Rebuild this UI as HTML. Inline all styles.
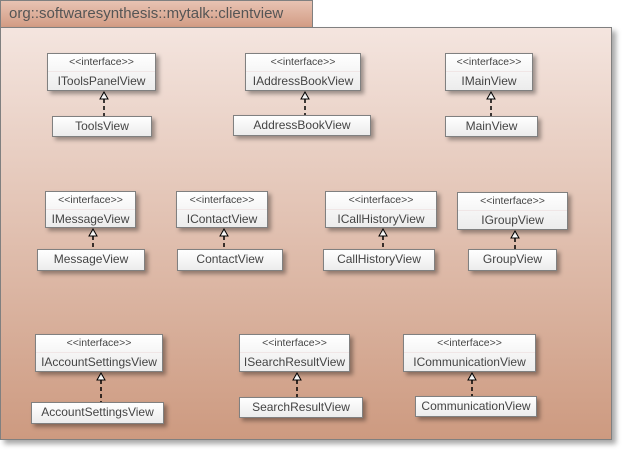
<!DOCTYPE html>
<html><head><meta charset="utf-8"><style>
body{margin:0;width:628px;height:456px;background:#fff;position:relative;overflow:hidden;font-family:"Liberation Sans",sans-serif;}
#tab{position:absolute;left:0;top:0;background:linear-gradient(#e8c3b3,#d29c84);border:1px solid #808080;font-size:15px;color:#555;line-height:26px;padding-left:8px;box-sizing:border-box;width:313px;height:28px}
#frame{position:absolute;left:0;top:27px;width:612px;height:413px;box-sizing:border-box;border:1px solid #808080;background:linear-gradient(#f4e5df,#cd9a80);box-shadow:4px 4px 5px rgba(0,0,0,0.35)}
.b{position:absolute;box-sizing:border-box;border:1px solid #808080;background:linear-gradient(#fff,#ececec);box-shadow:3px 3px 4px rgba(0,0,0,0.35);color:#444;text-align:center;white-space:nowrap}
.i div:first-child{font-size:10.5px;line-height:17px;border-bottom:1px solid #f0e6e6}
.i div:last-child{line-height:18px;font-size:12px}
.c{line-height:19px;font-size:12px}
svg{position:absolute;left:0;top:0}
</style></head><body>
<div id="tab">org::softwaresynthesis::mytalk::clientview</div>
<div id="frame"></div>
<svg width="628" height="456" id="arr"></svg>
<div id="boxes"></div>
<script>
const ifaces=[["IToolsPanelView",47,53,109,38,"ToolsView",52,116,100,21],
["IAddressBookView",245,53,116,38,"AddressBookView",233,115,138,21],
["IMainView",445,53,88,38,"MainView",445,116,93,21],
["IMessageView",45,191,91,37,"MessageView",37,249,108,22],
["IContactView",176,191,92,37,"ContactView",177,249,106,22],
["ICallHistoryView",325,191,112,37,"CallHistoryView",323,249,112,22],
["IGroupView",457,192,111,38,"GroupView",468,249,89,22],
["IAccountSettingsView",35,334,128,38,"AccountSettingsView",31,402,133,22],
["ISearchResultView",239,334,111,38,"SearchResultView",239,397,124,21],
["ICommunicationView",403,334,133,38,"CommunicationView",415,396,122,21]];
const bx=document.getElementById('boxes'),svg=document.getElementById('arr');
let s='';
ifaces.forEach(d=>{
 const a=document.createElement('div');a.className='b i';
 a.style.cssText=`left:${d[1]}px;top:${d[2]}px;width:${d[3]}px;height:${d[4]}px`;
 a.innerHTML='<div>&lt;&lt;interface&gt;&gt;</div><div>'+d[0]+'</div>';
 
 
 bx.appendChild(a);
 const c=document.createElement('div');c.className='b c';
 c.style.cssText=`left:${d[6]}px;top:${d[7]}px;width:${d[8]}px;height:${d[9]}px`;
 c.textContent=d[5];
 
 
 bx.appendChild(c);
 const x=Math.round(d[1]+d[3]/2)+2;
 const yt=d[2]+d[4],yb=d[7];
 s+=`<polygon points="${x},${yt+1} ${x-4},${yt+8} ${x+4},${yt+8}" fill="#fff" stroke="#000" stroke-width="1"/>`;
 s+=`<line x1="${x}" y1="${yt+8}" x2="${x}" y2="${yb}" stroke="#000" stroke-width="1.5" stroke-dasharray="4,3"/>`;
});
svg.innerHTML=s;
</script>
</body></html>
